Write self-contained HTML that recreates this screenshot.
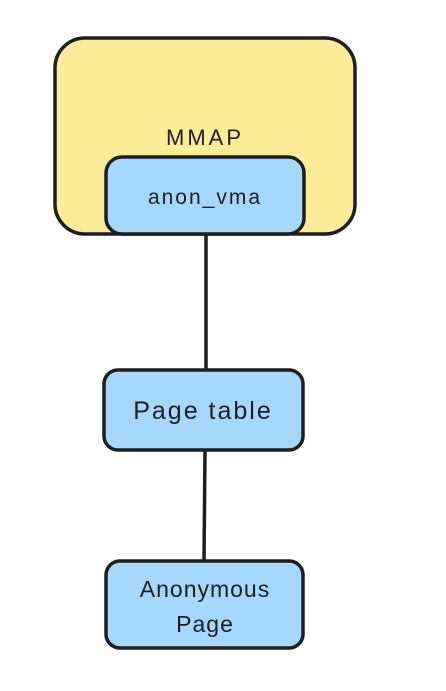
<!DOCTYPE html>
<html><head><meta charset="utf-8"><style>
body{margin:0;background:#fff;width:446px;height:686px;overflow:hidden}
svg text{font-family:"Liberation Sans",sans-serif;fill:#1e1e1e;text-anchor:middle}
</style></head><body>
<svg width="446" height="686" viewBox="0 0 446 686">
<rect x="55" y="38" width="300" height="196" rx="30" fill="#ffec99" stroke="#1e1e1e" stroke-width="3.5"/>
<text x="205" y="145" font-size="22" letter-spacing="3">MMAP</text>
<rect x="106" y="157" width="198" height="77" rx="16" fill="#a5d8ff" stroke="#1e1e1e" stroke-width="3.5"/>
<text x="205" y="204" font-size="21" letter-spacing="2">anon_vma</text>
<line x1="206" y1="234" x2="206" y2="370" stroke="#1e1e1e" stroke-width="3.5"/>
<rect x="104" y="370" width="199" height="80" rx="14" fill="#a5d8ff" stroke="#1e1e1e" stroke-width="3.5"/>
<text x="203" y="419" font-size="25" letter-spacing="2">Page table</text>
<line x1="205" y1="450" x2="204" y2="561" stroke="#1e1e1e" stroke-width="3.5"/>
<rect x="106" y="561" width="197" height="87" rx="14" fill="#a5d8ff" stroke="#1e1e1e" stroke-width="3.5"/>
<text x="205" y="597" font-size="23" letter-spacing="1">Anonymous</text>
<text x="205" y="632" font-size="23" letter-spacing="1">Page</text>
</svg>
</body></html>
